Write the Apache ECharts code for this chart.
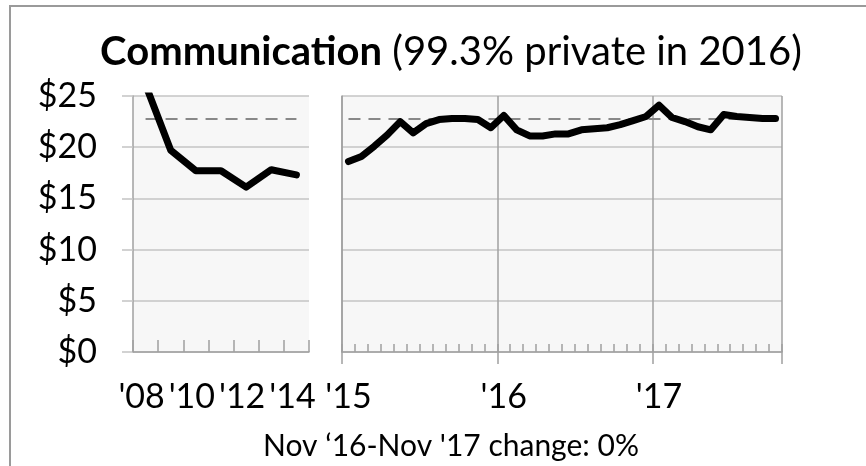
<!DOCTYPE html>
<html>
<head>
<meta charset="utf-8">
<script src="https://cdn.jsdelivr.net/npm/echarts@6/dist/echarts.min.js"></script>
<style>
  html, body { margin: 0; padding: 0; background: #fff; }
  #chart { width: 866px; height: 466px; }
</style>
</head>
<body>
<div id="chart"></div>
<script>
// annual values, 2008-2014
var years = ["'08", "'09", "'10", "'11", "'12", "'13", "'14"];
var yearValues = [26.1, 19.7, 17.7, 17.7, 16.1, 17.8, 17.3];

// monthly values, Jan 2015 - Oct 2017
var monthNames = ['Jan','Feb','Mar','Apr','May','Jun','Jul','Aug','Sep','Oct','Nov','Dec'];
var monthValues = [
  18.6, 19.1, 20.1, 21.2, 22.5, 21.4, 22.3, 22.7, 22.8, 22.8, 22.7, 21.9,
  23.1, 21.7, 21.1, 21.1, 21.3, 21.3, 21.7, 21.8, 21.9, 22.2, 22.6, 23.0,
  24.1, 22.9, 22.5, 22.0, 21.7, 23.2, 23.0, 22.9, 22.8, 22.8
];
var months = [];
for (var i = 0; i < monthValues.length; i++) {
  months.push(monthNames[i % 12] + " '" + (15 + Math.floor(i / 12)));
}
var avgLevel = 22.75;
var yTicks = { min: 0, max: 25, interval: 5 };

var FONT = 'Lato';
var gridColor = '#c4c4c4';
var axisColor = '#a0a0a0';
var LABEL_SIZE = 34;

var myChart = echarts.init(document.getElementById('chart'));
var option = {
  animation: false,
  textStyle: { fontFamily: FONT },
  title: [
    {
      text: '{b|Communication}{r| (99.3% private in 2016)}',
      left: 446,
      textAlign: 'center',
      top: 27,
      textStyle: {
        rich: {
          b: { fontFamily: FONT, fontWeight: 'bold', fontSize: 40, color: '#000' },
          r: { fontFamily: FONT, fontWeight: 'normal', fontSize: 40, color: '#000' }
        }
      }
    },
    {
      text: "Nov \u201816-Nov '17 change: 0%",
      left: 446,
      textAlign: 'center',
      top: 426,
      textStyle: { fontFamily: FONT, fontWeight: 'normal', fontSize: 30, color: '#000' }
    }
  ],
  graphic: [
    {
      type: 'polyline',
      shape: { points: [[10, 466], [10, 6], [866, 6]] },
      style: { stroke: '#9a9a9a', lineWidth: 2, fill: null },
      silent: true
    }
  ],
  grid: [
    { left: 133, right: 557, top: 96, bottom: 114, show: true, backgroundColor: '#f7f7f7', borderWidth: 0 },
    { left: 342, right: 84, top: 96, bottom: 114, show: true, backgroundColor: '#f7f7f7', borderWidth: 0 }
  ],
  xAxis: [
    {
      type: 'category', gridIndex: 0, data: years, boundaryGap: true,
      axisLine: { lineStyle: { color: axisColor, width: 1.5 } },
      axisTick: { show: true, inside: true, length: 12, interval: 0, lineStyle: { color: axisColor, width: 1.5 } },
      axisLabel: { interval: 1, fontSize: LABEL_SIZE, color: '#000', margin: 28, padding: [0, 8, 0, 0] },
      splitLine: { show: false }
    },
    {
      type: 'category', gridIndex: 1, data: months, boundaryGap: true, position: 'bottom',
      axisLine: { lineStyle: { color: axisColor, width: 1.5 } },
      axisTick: { show: true, inside: true, length: 8, interval: 0, lineStyle: { color: axisColor, width: 1.5 } },
      axisLabel: { show: false },
      splitLine: { show: false }
    },
    {
      type: 'category', gridIndex: 1, data: months, boundaryGap: true, position: 'bottom',
      axisLine: { show: false },
      axisTick: {
        show: true, inside: false, length: 12,
        interval: function (idx) { return idx % 12 === 0; },
        lineStyle: { color: axisColor, width: 1.5 }
      },
      axisLabel: {
        fontSize: LABEL_SIZE, color: '#000', margin: 28,
        interval: function (idx) { return idx % 12 === 0; },
        formatter: function (v) { return v.slice(v.indexOf("'")); }
      },
      splitLine: {
        show: true,
        interval: function (idx) { return idx % 12 === 0; },
        lineStyle: { color: axisColor, width: 1.5 }
      }
    }
  ],
  yAxis: [
    {
      type: 'value', gridIndex: 0, min: yTicks.min, max: yTicks.max, interval: yTicks.interval,
      axisLine: { show: true, lineStyle: { color: axisColor, width: 1.5 } },
      axisTick: { show: true, length: 11, lineStyle: { color: gridColor, width: 1.5 } },
      axisLabel: { fontSize: LABEL_SIZE, color: '#000', margin: 36, formatter: function (v) { return '$' + v; } },
      splitLine: { lineStyle: { color: gridColor, width: 1.5 } }
    },
    {
      type: 'value', gridIndex: 1, min: yTicks.min, max: yTicks.max, interval: yTicks.interval,
      axisLine: { show: true, lineStyle: { color: axisColor, width: 1.5 } },
      axisTick: { show: false },
      axisLabel: { show: false },
      splitLine: { lineStyle: { color: gridColor, width: 1.5 } }
    }
  ],
  series: [
    {
      type: 'line', xAxisIndex: 0, yAxisIndex: 0, data: yearValues,
      symbol: 'none', clip: true, z: 5,
      lineStyle: { color: '#000', width: 7, cap: 'round', join: 'round' },
      markLine: {
        silent: true, symbol: 'none', label: { show: false },
        lineStyle: { color: '#888', type: [12, 8], width: 2 },
        data: [[{ coord: [years[0], avgLevel] }, { coord: [years[years.length - 1], avgLevel] }]]
      }
    },
    {
      type: 'line', xAxisIndex: 1, yAxisIndex: 1, data: monthValues,
      symbol: 'none', clip: true, z: 5,
      lineStyle: { color: '#000', width: 7, cap: 'round', join: 'round' },
      markLine: {
        silent: true, symbol: 'none', label: { show: false },
        lineStyle: { color: '#888', type: [12, 8], width: 2 },
        data: [[{ coord: [months[0], avgLevel] }, { coord: [months[months.length - 1], avgLevel] }]]
      }
    }
  ]
};
myChart.setOption(option);
</script>
</body>
</html>
